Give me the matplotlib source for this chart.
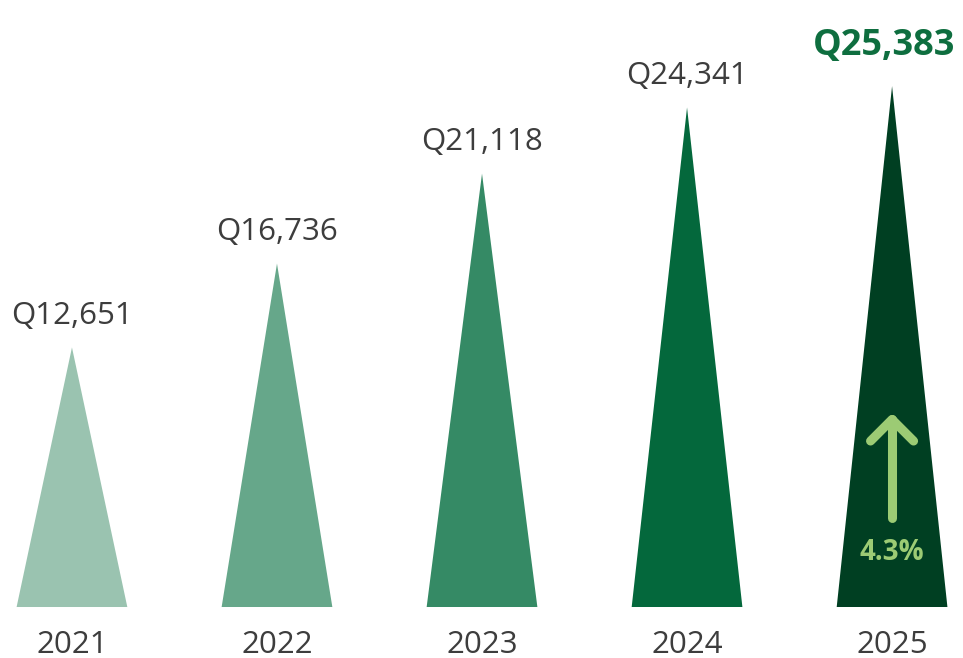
import numpy as np
import matplotlib.pyplot as plt

plt.rcParams['font.family'] = ['Open Sans', 'DejaVu Sans']

years = ['2021', '2022', '2023', '2024', '2025']
values = [12651, 16736, 21118, 24341, 25383]
labels = ['Q12,651', 'Q16,736', 'Q21,118', 'Q24,341', 'Q25,383']
colors = ['#9ac3b0', '#66a78a', '#358a65', '#04683c', '#003f22']
growth_label = '4.3%'

text_grey = '#3d3d3d'
label_green = '#0e6e3f'
arrow_green = '#9ccb74'

fig = plt.figure(figsize=(9.63, 6.58), dpi=100)
ax = fig.add_axes([0, 0, 1, 1])

x = np.arange(len(years)) * 1.0
half_w = 0.27

for i, (xi, v, c) in enumerate(zip(x, values, colors)):
    ax.fill([xi - half_w, xi, xi + half_w], [0, v, 0], color=c, lw=0)
    last = i == len(years) - 1
    # value label above the apex, the latest year highlighted
    ax.annotate(labels[i], (xi, v), xytext=(-6, 16) if last else (0, 12),
                textcoords='offset points', ha='center', va='bottom',
                fontsize=26 if last else 22.5,
                fontweight='bold' if last else 'normal',
                color=label_green if last else text_grey)
    # year under the base
    ax.annotate(years[i], (xi, 0), xytext=(0, -27), textcoords='offset points',
                ha='center', va='center', fontsize=22.5, color=text_grey)

# growth arrow inside the last triangle
xa = x[-1]
tail, tip = 0.17 * values[-1], 0.36 * values[-1]
head_dx, head_dy = 0.105, 1050
arrow_kw = dict(color=arrow_green, lw=6.5, solid_capstyle='round',
                solid_joinstyle='round')
ax.plot([xa, xa], [tail, tip], **arrow_kw)
ax.plot([xa - head_dx, xa, xa + head_dx], [tip - head_dy, tip, tip - head_dy], **arrow_kw)
ax.text(xa, 0.104 * values[-1], growth_label, ha='center', va='center',
        fontsize=20, fontweight='bold', color=arrow_green)

ax.set_xticks([])
ax.set_yticks([])
for s in ax.spines.values():
    s.set_visible(False)

ax.set_xlim(-0.351, 4.346)
ax.set_ylim(-2485, 29580)

fig.savefig('out.png', dpi=100)
